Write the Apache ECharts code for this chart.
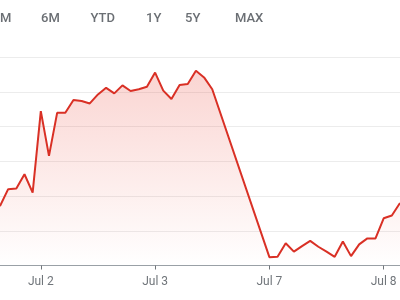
<!DOCTYPE html>
<html>
<head>
<meta charset="utf-8">
<script src="https://cdn.jsdelivr.net/npm/echarts@6/dist/echarts.min.js"></script>
<style>
html,body{margin:0;padding:0;background:#fff;}
#chart{width:400px;height:300px;}
</style>
</head>
<body>
<div id="chart"></div>
<script>
// Half-hour trading slots of a full session
const sessionSlots = ["9:30","10:00","10:30","11:00","11:30","12:00","12:30","13:00","13:30","14:00","14:30","15:00","15:30","16:00"];
const days = ["Jul 1","Jul 2","Jul 3","Jul 7","Jul 8"];
const dayTickLabels = ["Jul 2","Jul 3","Jul 7","Jul 8"];
const rangeButtons = ["M","6M","YTD","1Y","5Y","MAX"];

// Prices (visible tail of Jul 1 through start of Jul 8); null = no trading (half day)
const jul1Prices = [121.71,122.20,122.22,122.63,122.10];            // 14:00 - 16:00
const jul2Prices = [124.45,123.16,124.40,124.40,124.77,124.74,124.67,124.93,125.12,124.96,125.19,125.03,125.08,125.15];
const jul3Prices = [125.56,125.04,124.80,125.20,125.23,125.61,125.42,125.08,null,null,null,null,null,null];
const jul7Prices = [120.24,120.25,120.64,120.40,120.56,120.71,120.54,120.40,120.25,120.69,120.27,120.61,120.78,120.78];
const jul8Prices = [121.36,121.44,121.80];                           // 9:30 - 10:30

const dayData = [jul1Prices, jul2Prices, jul3Prices, jul7Prices, jul8Prices];
const categories = [];
const values = [];
dayData.forEach((arr, d) => {
  const slots = d === 0 ? sessionSlots.slice(sessionSlots.length - arr.length) : sessionSlots.slice(0, arr.length);
  arr.forEach((v, i) => { categories.push(days[d] + " " + slots[i]); values.push(v); });
});
const isDayStart = (idx) => {
  const c = categories[idx];
  return c.endsWith(" 9:30") && dayTickLabels.includes(c.replace(" 9:30", ""));
};

const chart = echarts.init(document.getElementById('chart'), null, {renderer: 'canvas'});
const btnX = [0, 41, 90.5, 146, 185, 235];
chart.setOption({
  animation: false,
  backgroundColor: '#ffffff',
  grid: {left: -3.6, right: -1.0, top: 57.3, bottom: 34.5, containLabel: false},
  xAxis: {
    type: 'category',
    data: categories,
    boundaryGap: false,
    axisLine: {show: true, lineStyle: {color: '#9aa0a6', width: 1}},
    axisTick: {show: true, length: 4, interval: (i) => isDayStart(i), lineStyle: {color: '#70757a', width: 1}},
    axisLabel: {
      show: true, interval: (i) => isDayStart(i), margin: 10,
      color: '#70757a', fontSize: 12, fontFamily: 'Roboto',
      formatter: (v) => v.replace(" 9:30", "")
    },
    splitLine: {show: false}
  },
  yAxis: {
    type: 'value', min: 120, max: 126, interval: 1,
    axisLine: {show: false}, axisTick: {show: false}, axisLabel: {show: false},
    splitLine: {show: true, lineStyle: {color: '#ececec', width: 1}}
  },
  series: [{
    type: 'line',
    data: values,
    connectNulls: true,
    showSymbol: false,
    symbol: 'none',
    lineStyle: {color: '#d93025', width: 2},
    areaStyle: {
      color: new echarts.graphic.LinearGradient(0, 0, 0, 1, [
        {offset: 0, color: 'rgba(234,67,53,0.32)'},
        {offset: 1, color: 'rgba(234,67,53,0.0)'}
      ])
    }
  }],
  graphic: rangeButtons.map((t, i) => ({
    type: 'text', left: btnX[i], top: 12,
    style: {text: t, fill: '#6b6f74', font: '500 13px Roboto'}
  }))
});
</script>
</body>
</html>
